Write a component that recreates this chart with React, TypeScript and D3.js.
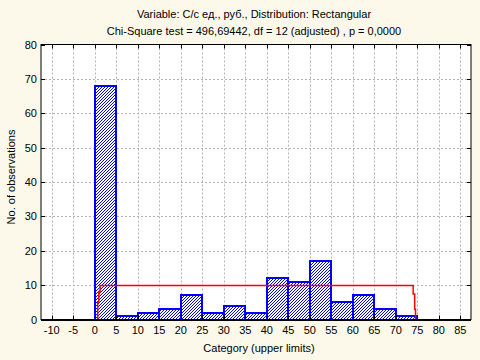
import React from "react";
import * as d3 from "d3";

const binStarts = [0, 5, 10, 15, 20, 25, 30, 35, 40, 45, 50, 55, 60, 65, 70];
const counts = [68, 1, 2, 3, 7, 2, 4, 2, 12, 11, 17, 5, 7, 3, 1];
const binWidth = 5;
const xTicks = [-10, -5, 0, 5, 10, 15, 20, 25, 30, 35, 40, 45, 50, 55, 60, 65, 70, 75, 80, 85];
const yTicks = [0, 10, 20, 30, 40, 50, 60, 70, 80];
const fitX = [0.7, 0.7, 0.95, 0.95, 1.25, 1.25, 74.05, 74.05, 74.4, 74.4, 74.6, 74.6];
const fitY = [0, 5, 5, 8, 8, 9.9, 9.9, 7.4, 7.4, 3, 3, 0];
const title1 = "Variable: C/c ед., руб., Distribution: Rectangular";
const title2 = "Chi-Square test = 496,69442, df = 12 (adjusted) , p = 0,0000";
const xTitle = "Category (upper limits)";
const yTitle = "No. of observations";

export default function App() {
  const W = 480, H = 360;
  const L = 41, R = 471, T = 44.5, B = 319.5;
  const x = d3.scaleLinear().domain([-12.5, 87.5]).range([L, R]);
  const y = d3.scaleLinear().domain([0, 80]).range([B, T]);
  const line = d3
    .line<number>()
    .x((_, i) => x(fitX[i]))
    .y((_, i) => y(fitY[i]));
  const font = "'Liberation Sans', Arial, sans-serif";
  const blue = "#0000ff";
  return (
    <svg width={W} height={H} style={{ position: "absolute", left: 0, top: 0 }} fontFamily={font}>
      <defs>
        <pattern id="hatch" patternUnits="userSpaceOnUse" width={3} height={3}>
          <rect width={3} height={3} fill="#ffffff" />
          <rect x={0} y={2} width={1} height={1} fill={blue} />
          <rect x={1} y={1} width={1} height={1} fill={blue} />
          <rect x={2} y={0} width={1} height={1} fill={blue} />
        </pattern>
      </defs>
      <rect width={W} height={H} fill="#fdf9ea" />
      <rect x={L} y={T} width={R - L} height={B - T} fill="#ffffff" />
      {/* grid */}
      {xTicks.map((t) => (
        <line key={"gx" + t} x1={Math.round(x(t)) + 0.5} x2={Math.round(x(t)) + 0.5} y1={T} y2={B}
          stroke="#b4b4b4" strokeDasharray="2,2" />
      ))}
      {yTicks.filter((t) => t > 0 && t < 80).map((t) => (
        <line key={"gy" + t} x1={L} x2={R} y1={Math.round(y(t)) + 0.5} y2={Math.round(y(t)) + 0.5}
          stroke="#b4b4b4" strokeDasharray="2,2" />
      ))}
      {/* bars */}
      {binStarts.map((s, i) => (
        <rect key={"b" + s} x={Math.round(x(s))} y={Math.round(y(counts[i]))}
          width={Math.round(x(s + binWidth)) - Math.round(x(s))}
          height={Math.round(y(0)) - Math.round(y(counts[i]))}
          fill="url(#hatch)" stroke={blue} strokeWidth={2} />
      ))}
      {/* fit line */}
      <path d={line(fitX) || ""} fill="none" stroke="#ff0000" strokeWidth={1.5} />
      {/* frame */}
      <rect x={L} y={T} width={R - L} height={B - T} fill="none" stroke="#000" strokeWidth={1} />
      <line x1={L} x2={R} y1={B + 0.5} y2={B + 0.5} stroke="#000" strokeWidth={2} />
      {xTicks.map((t) => (
        <g key={"tx" + t}>
          <line x1={Math.round(x(t)) + 0.5} x2={Math.round(x(t)) + 0.5} y1={B} y2={B - 4} stroke="#000" />
          <line x1={Math.round(x(t)) + 0.5} x2={Math.round(x(t)) + 0.5} y1={T} y2={T + 4} stroke="#000" />
          <text x={x(t)} y={334} fontSize={11} textAnchor="middle" fill="#000">{t}</text>
        </g>
      ))}
      {yTicks.map((t) => (
        <g key={"ty" + t}>
          <line x1={L} x2={L + 4} y1={Math.round(y(t)) + 0.5} y2={Math.round(y(t)) + 0.5} stroke="#000" />
          <line x1={R} x2={R - 4} y1={Math.round(y(t)) + 0.5} y2={Math.round(y(t)) + 0.5} stroke="#000" />
          <text x={37} y={y(t) + 4} fontSize={11} textAnchor="end" fill="#000">{t}</text>
        </g>
      ))}
      <text x={254} y={18} fontSize={11} textAnchor="middle" fill="#000">{title1}</text>
      <text x={254} y={35} fontSize={11} textAnchor="middle" fill="#000">{title2}</text>
      <text x={259} y={352} fontSize={11} textAnchor="middle" fill="#000">{xTitle}</text>
      <text transform={`translate(15,${177}) rotate(-90)`} fontSize={11} textAnchor="middle" fill="#000">{yTitle}</text>
    </svg>
  );
}
